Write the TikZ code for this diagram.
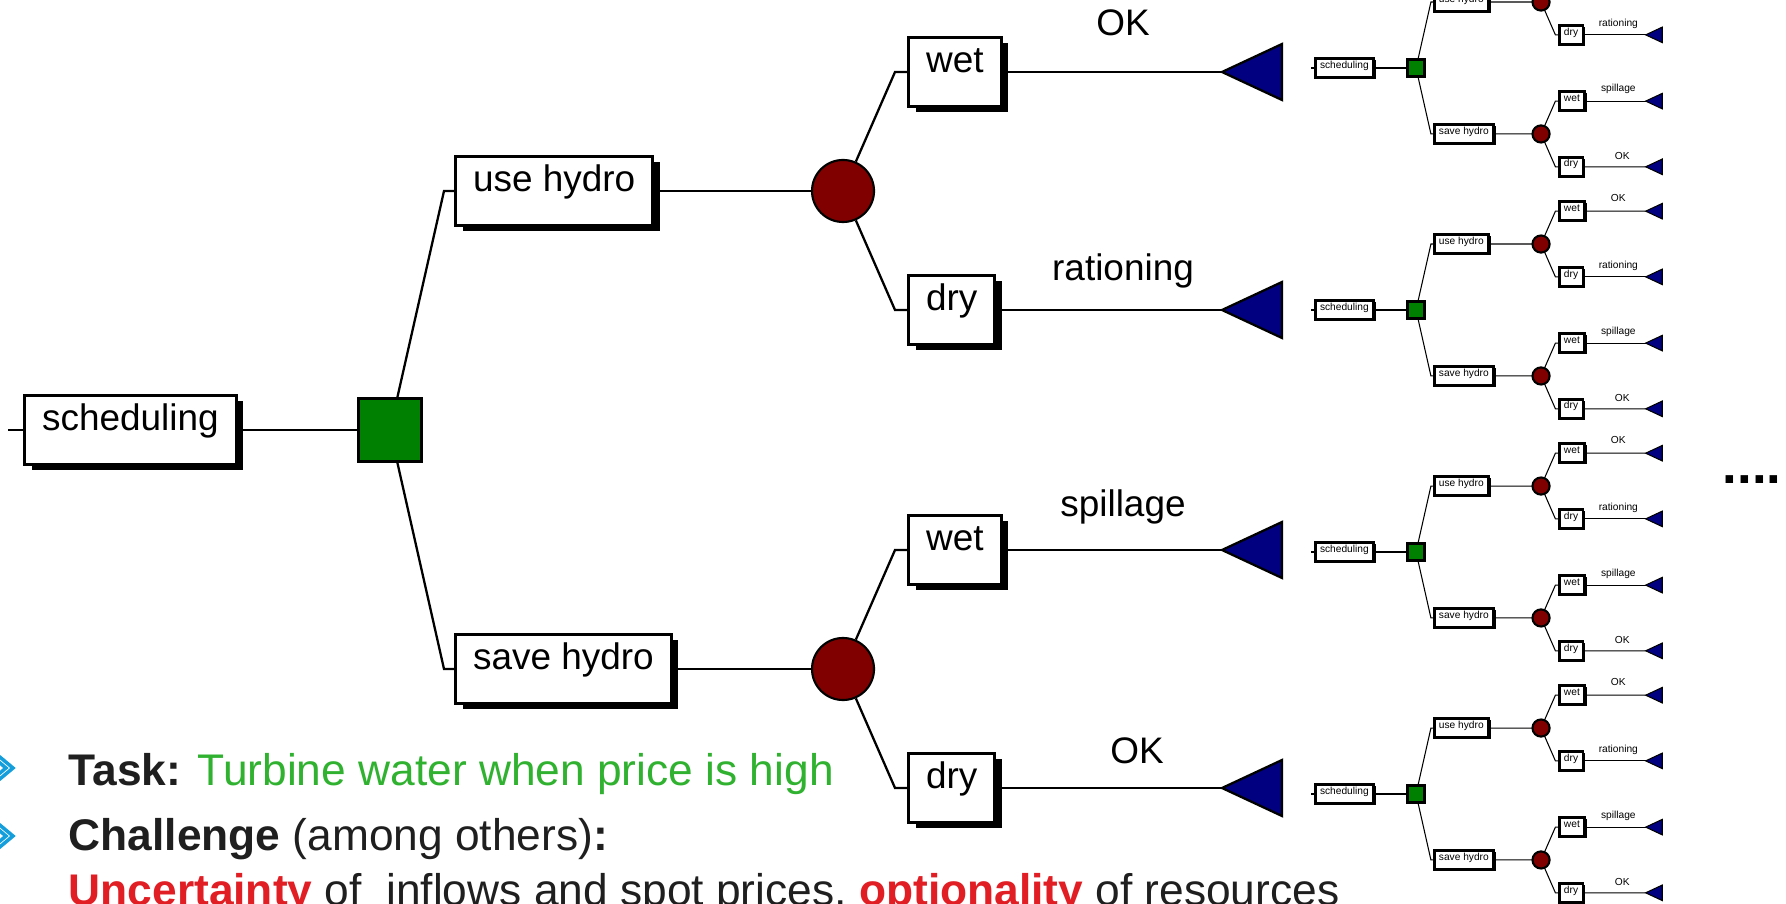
\documentclass[tikz,border=0pt]{standalone}
\usepackage{fontspec}
\setmainfont{Liberation Sans}
\usetikzlibrary{calc, shadows}

\definecolor{dgreen}{RGB}{0,128,0}
\definecolor{dred}{RGB}{128,0,0}
\definecolor{dblue}{RGB}{0,0,128}
\definecolor{taskgreen}{RGB}{48,178,48}
\definecolor{hotred}{RGB}{224,30,36}
\definecolor{chevblue}{RGB}{20,158,220}

% decision tree: name, centre of the square, scale, line width
\newcommand{\dtree}[4]{%
\begin{scope}[shift={#2}, scale=#3, transform shape, line width=#4,
    choice/.append style={drop shadow={shadow xshift=#3*2pt, shadow yshift=-#3*1.6pt, fill=black, opacity=1}}]
    \node[choice] (#1-sched) at (-367,0) {scheduling};
    \node[decision] (#1-sq) at (0,0) {};
    \node[choice] (#1-use) at (64,-239) {use hydro};
    \node[choice] (#1-save) at (64,239) {save hydro};
    \node[chance] (#1-c1) at (453,-239) {};
    \node[chance] (#1-c2) at (453,239) {};
    \node[choice] (#1-w1) at (517,-358) {wet};
    \node[choice] (#1-d1) at (517,-120) {dry};
    \node[choice] (#1-w2) at (517,120) {wet};
    \node[choice] (#1-d2) at (517,358) {dry};
    \foreach \n/\y in {1/-358,2/-120,3/120,4/358}
    {
        \coordinate (#1-e\n) at (832,\y);
        \filldraw[leaf] (#1-e\n) -- ++(60,-28) -- ++(0,56) -- cycle;
    }
    \node[outcome] (#1-o1) at (733,-394) {OK};
    \node[outcome] (#1-o2) at (733,-149) {rationing};
    \node[outcome] (#1-o3) at (733,87) {spillage};
    \node[outcome] (#1-o4) at (747,333) {OK};

    \draw (#1-sched.west) -- +(-15,0);
    \draw (#1-sched) -- (#1-sq);
    \draw (#1-sq) -- ($(#1-use.west)+(-10,0)$) -- (#1-use.west);
    \draw (#1-sq) -- ($(#1-save.west)+(-10,0)$) -- (#1-save.west);
    \draw (#1-use) -- (#1-c1);
    \draw (#1-save) -- (#1-c2);
    \draw (#1-c1) -- ($(#1-w1.west)+(-12,0)$) -- (#1-w1.west);
    \draw (#1-c1) -- ($(#1-d1.west)+(-12,0)$) -- (#1-d1.west);
    \draw (#1-c2) -- ($(#1-w2.west)+(-12,0)$) -- (#1-w2.west);
    \draw (#1-c2) -- ($(#1-d2.west)+(-12,0)$) -- (#1-d2.west);
    \draw (#1-w1) -- (#1-e1);
    \draw (#1-d1) -- (#1-e2);
    \draw (#1-w2) -- (#1-e3);
    \draw (#1-d2) -- (#1-e4);
\end{scope}
}

\begin{document}
\begin{tikzpicture}[x=0.01cm, y=-0.01cm,
    choice/.style={draw, fill=white, anchor=west, line width=0.85pt,
        inner xsep=5pt, inner ysep=0pt, text height=10pt, text depth=9.6pt,
        font=\fontsize{10.5}{12}\selectfont},
    decision/.style={draw, fill=dgreen, line width=0.85pt, minimum size=0.63cm, inner sep=0pt},
    chance/.style={circle, draw, fill=dred, line width=0.6pt, minimum size=0.62cm, inner sep=0pt},
    leaf/.style={draw=black, fill=dblue},
    outcome/.style={anchor=base, inner sep=0pt, font=\fontsize{10.5}{12}\selectfont},
    body/.style={anchor=base west, inner sep=0pt, text=black!88, font=\fontsize{12.6}{15}\selectfont},
    chev/.style={draw=chevblue, line width=1pt}]
\useasboundingbox (0,0) rectangle (1786,904);

\dtree{m}{(390,430)}{1}{0.65pt}
\foreach \t/\y in {a/68,b/310,c/552,d/794}
{
    \dtree{\t}{(1416,\y)}{0.276}{0.3pt}
}

\node[anchor=base west, inner sep=0pt, font=\bfseries\fontsize{15}{18}\selectfont] (more) at (1722,484) {....};

% bullets
\foreach \y in {768,836}
{
    \draw[chev] (-5,\y-15) -- (13,\y) -- (-5,\y+15);
    \draw[chev] (-12,\y-15) -- (6,\y) -- (-12,\y+15);
}
\node[body] (task) at (68,785) {\textbf{Task:} \textcolor{taskgreen}{Turbine water when price is high}};
\node[body] (chal) at (68,850) {\textbf{Challenge} (among others)\textbf{:}};
\node[body] (unc) at (68,905) {\textcolor{hotred}{\textbf{Uncertainty}} of\ \ inflows and spot prices, \textcolor{hotred}{\textbf{optionality}} of resources};

\end{tikzpicture}
\end{document}
